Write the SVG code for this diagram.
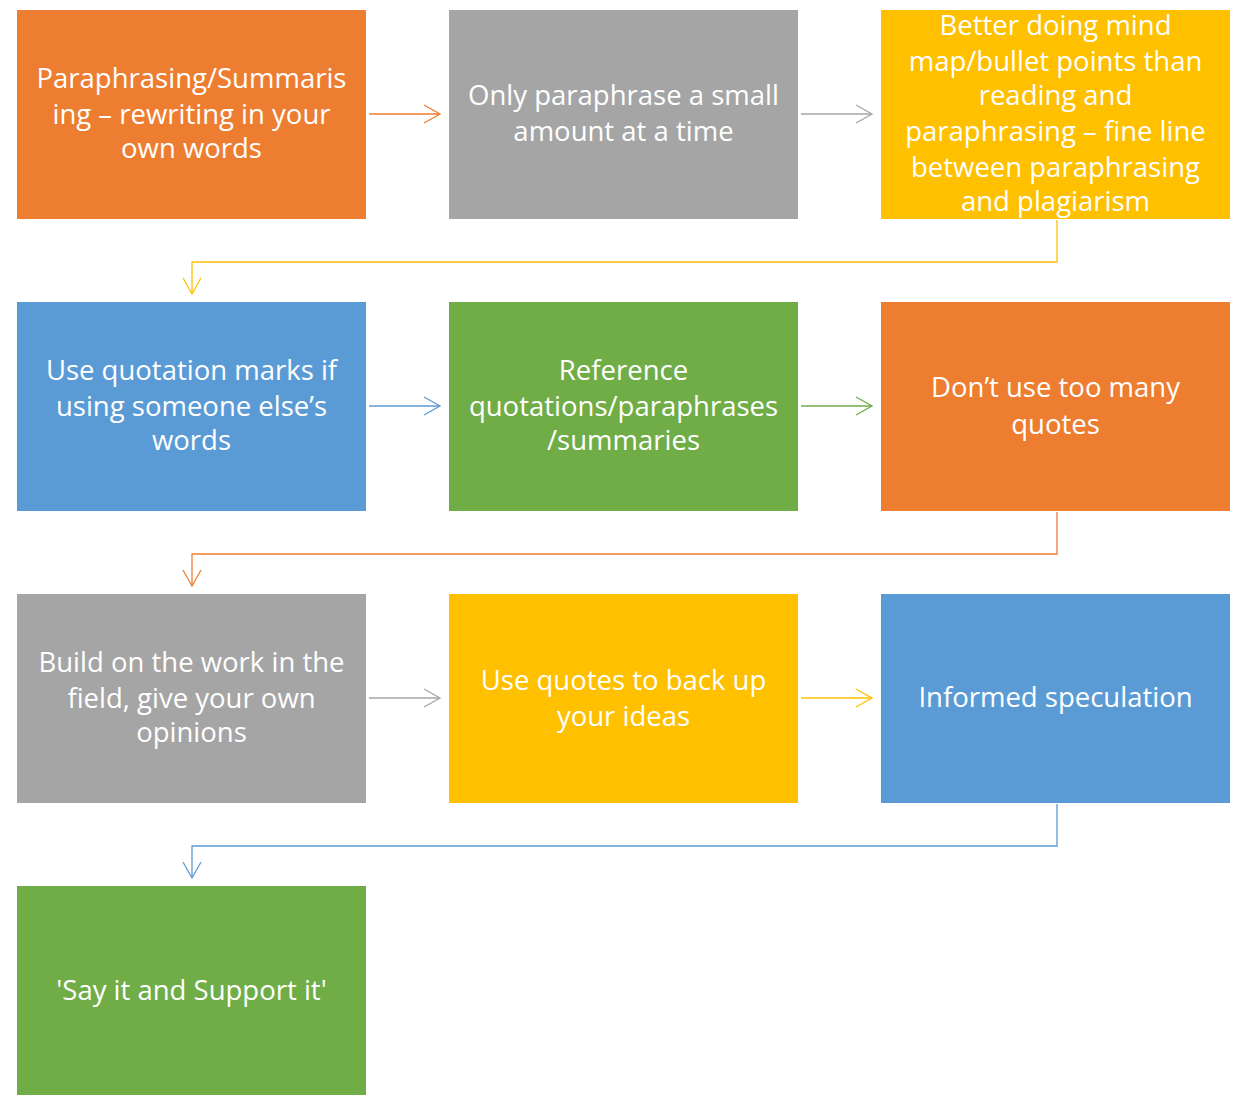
<svg xmlns="http://www.w3.org/2000/svg" width="1243" height="1102" viewBox="0 0 1243 1102">
<style>
.t{font-family:"Open Sans","Noto Sans",sans-serif;font-size:27.5px;fill:#fff;text-anchor:middle}
.c{fill:none;stroke-width:1.3}
.o{fill:#ED7D31}.g{fill:#A5A5A5}.y{fill:#FFC000}.b{fill:#5B9BD5}.gr{fill:#70AD47}
</style>
<defs>
<marker id="mo" viewBox="0 0 20 20" refX="18" refY="10" markerWidth="20" markerHeight="20" markerUnits="userSpaceOnUse" orient="auto"><path d="M2,1 L18,10 L2,19" fill="none" stroke="#ED7D31" stroke-width="1.3"/></marker>
<marker id="mg" viewBox="0 0 20 20" refX="18" refY="10" markerWidth="20" markerHeight="20" markerUnits="userSpaceOnUse" orient="auto"><path d="M2,1 L18,10 L2,19" fill="none" stroke="#A5A5A5" stroke-width="1.3"/></marker>
<marker id="my" viewBox="0 0 20 20" refX="18" refY="10" markerWidth="20" markerHeight="20" markerUnits="userSpaceOnUse" orient="auto"><path d="M2,1 L18,10 L2,19" fill="none" stroke="#FFC000" stroke-width="1.3"/></marker>
<marker id="mb" viewBox="0 0 20 20" refX="18" refY="10" markerWidth="20" markerHeight="20" markerUnits="userSpaceOnUse" orient="auto"><path d="M2,1 L18,10 L2,19" fill="none" stroke="#5B9BD5" stroke-width="1.3"/></marker>
<marker id="mgr" viewBox="0 0 20 20" refX="18" refY="10" markerWidth="20" markerHeight="20" markerUnits="userSpaceOnUse" orient="auto"><path d="M2,1 L18,10 L2,19" fill="none" stroke="#70AD47" stroke-width="1.3"/></marker>
</defs>
<g id="connectors">
<path class="c" stroke="#ED7D31" d="M369,114 H440" marker-end="url(#mo)"/>
<path class="c" stroke="#A5A5A5" d="M801,114 H872" marker-end="url(#mg)"/>
<path class="c" stroke="#FFC000" d="M1057,220 V262 H192 V294" marker-end="url(#my)"/>
<path class="c" stroke="#5B9BD5" d="M369,406 H440" marker-end="url(#mb)"/>
<path class="c" stroke="#70AD47" d="M801,406 H872" marker-end="url(#mgr)"/>
<path class="c" stroke="#ED7D31" d="M1057,512 V554 H192 V586" marker-end="url(#mo)"/>
<path class="c" stroke="#A5A5A5" d="M369,698 H440" marker-end="url(#mg)"/>
<path class="c" stroke="#FFC000" d="M801,698 H872" marker-end="url(#my)"/>
<path class="c" stroke="#5B9BD5" d="M1057,804 V846 H192 V878" marker-end="url(#mb)"/>
</g>
<g id="n1"><rect class="o" x="17" y="10" width="349" height="209"/>
<text class="t" x="191.5" y="88">Paraphrasing/Summaris</text><text class="t" x="191.5" y="124">ing – rewriting in your</text><text class="t" x="191.5" y="158">own words</text></g>
<g id="n2"><rect class="g" x="449" y="10" width="349" height="209"/>
<text class="t" x="623.5" y="105">Only paraphrase a small</text><text class="t" x="623.5" y="141">amount at a time</text></g>
<g id="n3"><rect class="y" x="881" y="10" width="349" height="209"/>
<text class="t" x="1055.5" y="35">Better doing mind</text><text class="t" x="1055.5" y="71">map/bullet points than</text><text class="t" x="1055.5" y="105">reading and</text><text class="t" x="1055.5" y="141">paraphrasing – fine line</text><text class="t" x="1055.5" y="177">between paraphrasing</text><text class="t" x="1055.5" y="211">and plagiarism</text></g>
<g id="n4"><rect class="b" x="17" y="302" width="349" height="209"/>
<text class="t" x="191.5" y="380">Use quotation marks if</text><text class="t" x="191.5" y="416">using someone else’s</text><text class="t" x="191.5" y="450">words</text></g>
<g id="n5"><rect class="gr" x="449" y="302" width="349" height="209"/>
<text class="t" x="623.5" y="380">Reference</text><text class="t" x="623.5" y="416">quotations/paraphrases</text><text class="t" x="623.5" y="450">/summaries</text></g>
<g id="n6"><rect class="o" x="881" y="302" width="349" height="209"/>
<text class="t" x="1055.5" y="397">Don’t use too many</text><text class="t" x="1055.5" y="434">quotes</text></g>
<g id="n7"><rect class="g" x="17" y="594" width="349" height="209"/>
<text class="t" x="191.5" y="672">Build on the work in the</text><text class="t" x="191.5" y="708">field, give your own</text><text class="t" x="191.5" y="742">opinions</text></g>
<g id="n8"><rect class="y" x="449" y="594" width="349" height="209"/>
<text class="t" x="623.5" y="690">Use quotes to back up</text><text class="t" x="623.5" y="726">your ideas</text></g>
<g id="n9"><rect class="b" x="881" y="594" width="349" height="209"/>
<text class="t" x="1055.5" y="707">Informed speculation</text></g>
<g id="n10"><rect class="gr" x="17" y="886" width="349" height="209"/>
<text class="t" x="191.5" y="1000">'Say it and Support it'</text></g>
</svg>
